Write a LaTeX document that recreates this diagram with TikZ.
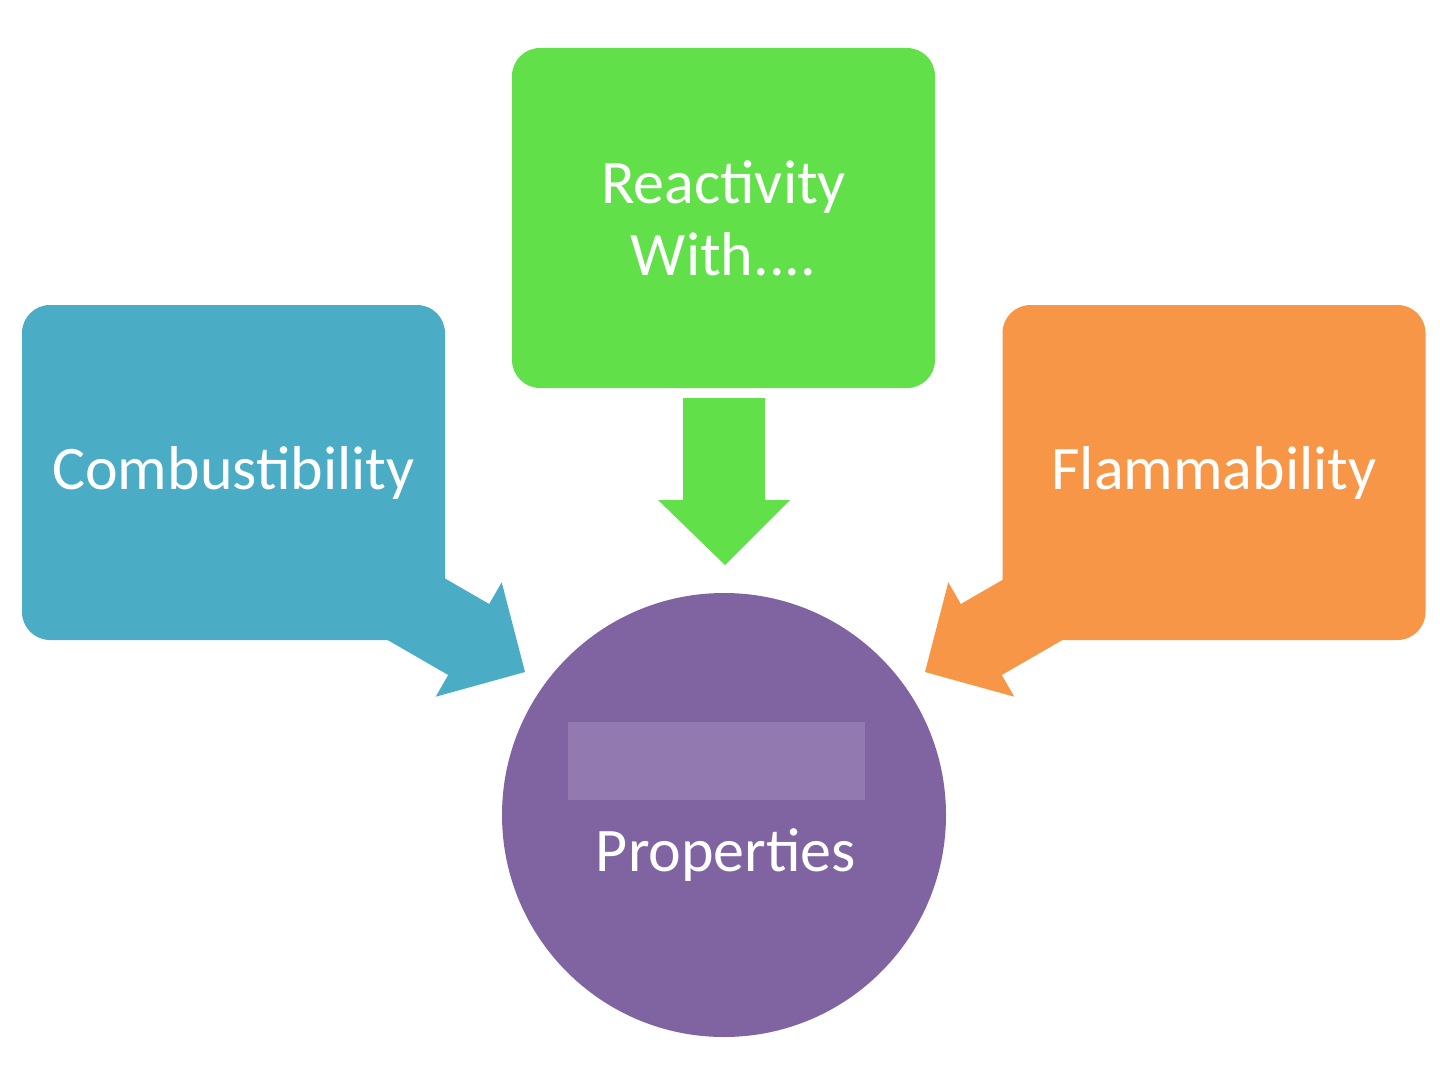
\documentclass[tikz,border=0pt]{standalone}
\usepackage{fontspec}
\setmainfont{Carlito}
\definecolor{cblue}{HTML}{4BACC6}
\definecolor{cgreen}{HTML}{62E04A}
\definecolor{corange}{HTML}{F79646}
\definecolor{cpurple}{HTML}{8064A2}
\definecolor{cblur}{HTML}{9A84B8}
\begin{document}
\begin{tikzpicture}[x=0.5pt,y=-0.5pt,
  boxst/.style={rounded corners=14pt,minimum width=211.5pt,inner sep=0pt,text=white,font=\fontsize{31}{36}\selectfont,align=center}]
\useasboundingbox[fill=white] (0,0) rectangle (1440,1065);
% arrows
\fill[cgreen] (683,398) -- (765,398) -- (765,500) -- (790,500) -- (725,565) -- (658,500) -- (683,500) -- cycle;
\fill[cblue] (525,672) -- (435.7,696.7) -- (448.2,675) -- (357.3,622.5) -- (398.3,551.5) -- (489.2,604) -- (501.7,582.3) -- cycle;
\fill[corange] (925,672) -- (1014.3,696.7) -- (1001.8,675) -- (1092.7,622.5) -- (1051.7,551.5) -- (960.8,604) -- (948.3,582.3) -- cycle;
% boxes
\node[boxst,fill=cblue,minimum height=167.5pt] (comb) at (233.5,472.5) {Combustibility};
\node[boxst,fill=cgreen,minimum height=170pt] (react) at (723.5,218) {Reactivity\\With....};
\node[boxst,fill=corange,minimum height=167.5pt] (flam) at (1214,472.5) {Flammability};
\node[circle,fill=cpurple,minimum size=222pt,inner sep=0pt] (prop) at (724,815) {};
\fill[cblur,opacity=0.7] (568,722) rectangle (865,800);
\node[text=white,font=\fontsize{31}{36}\selectfont] (proptxt) at (726,855) {Properties};
\end{tikzpicture}
\end{document}
